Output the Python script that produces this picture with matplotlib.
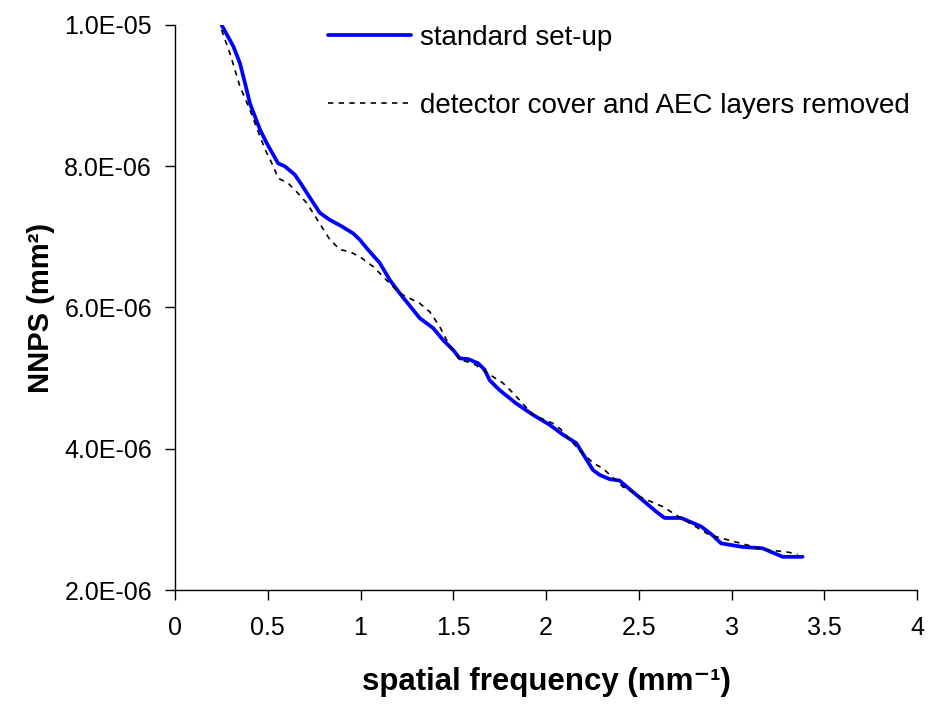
import matplotlib.pyplot as plt
from matplotlib.ticker import FuncFormatter

# values (x in mm^-1, y in units of 1e-6 mm^2)
std_freq = [0.251, 0.314, 0.35, 0.377, 0.404, 0.458, 0.494, 0.556, 0.592, 0.646,
            0.682, 0.736, 0.781, 0.835, 0.898, 0.96, 0.996, 1.04, 1.104, 1.158,
            1.212, 1.319, 1.391, 1.445, 1.499, 1.535, 1.58, 1.634, 1.669, 1.696,
            1.75, 1.84, 1.93, 2.019, 2.091, 2.163, 2.208, 2.253, 2.289, 2.343,
            2.396, 2.468, 2.54, 2.594, 2.639, 2.728, 2.836, 2.896, 2.944, 3.06,
            3.168, 3.276, 3.383]
std_nnps = [10.0, 9.70, 9.46, 9.18, 8.89, 8.52, 8.33, 8.04, 8.0, 7.88,
            7.74, 7.52, 7.34, 7.24, 7.15, 7.05, 6.96, 6.82, 6.63, 6.39,
            6.20, 5.85, 5.71, 5.54, 5.40, 5.28, 5.27, 5.21, 5.12, 4.97,
            4.83, 4.64, 4.48, 4.34, 4.20, 4.08, 3.89, 3.70, 3.63, 3.57,
            3.55, 3.39, 3.23, 3.11, 3.02, 3.02, 2.90, 2.78, 2.66, 2.61,
            2.59, 2.47, 2.47]

rem_freq = [0.251, 0.296, 0.35, 0.404, 0.458, 0.494, 0.53, 0.556, 0.61, 0.655,
            0.71, 0.768, 0.835, 0.889, 0.942, 0.996, 1.068, 1.158, 1.212, 1.319,
            1.373, 1.427, 1.481, 1.535, 1.607, 1.696, 1.768, 1.822, 1.93, 2.037,
            2.082, 2.163, 2.253, 2.307, 2.415, 2.522, 2.63, 2.702, 2.792, 2.881,
            2.953, 3.079, 3.186, 3.294, 3.356]
rem_nnps = [9.93, 9.60, 9.13, 8.80, 8.42, 8.19, 8.0, 7.83, 7.76, 7.64,
            7.48, 7.24, 6.96, 6.82, 6.79, 6.72, 6.58, 6.34, 6.20, 6.06,
            5.94, 5.73, 5.45, 5.26, 5.21, 5.05, 4.93, 4.79, 4.48, 4.36,
            4.27, 4.03, 3.80, 3.72, 3.46, 3.30, 3.18, 3.06, 2.92, 2.78,
            2.73, 2.64, 2.57, 2.54, 2.51]

labels = ["standard set-up", "detector cover and AEC layers removed"]
x_ticks = [0, 0.5, 1, 1.5, 2, 2.5, 3, 3.5, 4]
y_ticks = [2e-6, 4e-6, 6e-6, 8e-6, 1e-5]

plt.rcParams["font.family"] = ["Liberation Sans", "DejaVu Sans"]

fig = plt.figure(figsize=(9.38, 7.07), dpi=100)
ax = fig.add_axes([175 / 938, 1 - 590 / 707, (917 - 175) / 938, (590 - 25) / 707])

ax.plot(std_freq, [v * 1e-6 for v in std_nnps], color="#0000ff", lw=2.7,
        label=labels[0], solid_capstyle="round", solid_joinstyle="round")
ax.plot(rem_freq, [v * 1e-6 for v in rem_nnps], color="black", lw=1.2,
        dashes=(3.2, 3.2), label=labels[1])

ax.set_xlim(0, 4)
ax.set_ylim(2e-6, 1e-5)
ax.set_xticks(x_ticks)
ax.set_xticklabels([f"{t:g}" for t in x_ticks])
ax.set_yticks(y_ticks)
ax.yaxis.set_major_formatter(FuncFormatter(lambda v, p: f"{v:.1E}"))
ax.tick_params(labelsize=18)

for s in ["top", "right"]:
    ax.spines[s].set_visible(False)
for s in ["left", "bottom"]:
    ax.spines[s].set_linewidth(1.0)
ax.tick_params(direction="out", length=7.5, width=1)
ax.tick_params(axis="x", pad=11)
ax.tick_params(axis="y", pad=9)

ax.set_xlabel("spatial frequency (mm\u207b\u00b9)", fontsize=22.5,
              fontweight="bold", labelpad=20)
ax.set_ylabel("NNPS (mm\u00b2)", fontsize=21, fontweight="bold", labelpad=7)

fig.legend(loc="upper left", bbox_to_anchor=(328 / 938, 1 - 25 / 707),
           frameon=False, fontsize=20, handlelength=3.0, handletextpad=0.3,
           labelspacing=1.5, borderaxespad=0, borderpad=0)

fig.savefig("out.png", dpi=100)
